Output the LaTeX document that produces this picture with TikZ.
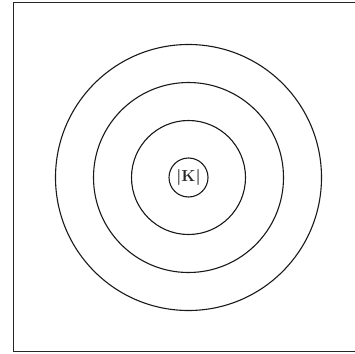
\documentclass[tikz,border=0pt]{standalone}
\begin{document}
\begin{tikzpicture}[x=1pt,y=-1pt,
  ring/.style={draw=black!90,line width=1.1pt},
  frame/.style={draw=black!85,line width=1.4pt}]
\useasboundingbox (0,0) rectangle (355,353);
\coordinate (tl) at (13.5,2.5);
\coordinate (tr) at (356,2.5);
\coordinate (bl) at (13.5,351.5);
\coordinate (br) at (356,351.5);
\draw[frame] (tr) -- (tl) -- (bl) -- (br);
\coordinate (c) at (188.5,177.5);
\draw[ring] (c) circle[radius=133];
\draw[ring] (c) circle[radius=95];
\draw[ring] (c) circle[radius=57];
\node[ring,circle,minimum size=39pt,inner sep=0pt,text=black!85,font=\bfseries\fontsize{16}{18}\selectfont] (k) at (c) {|K|};
\end{tikzpicture}
\end{document}
